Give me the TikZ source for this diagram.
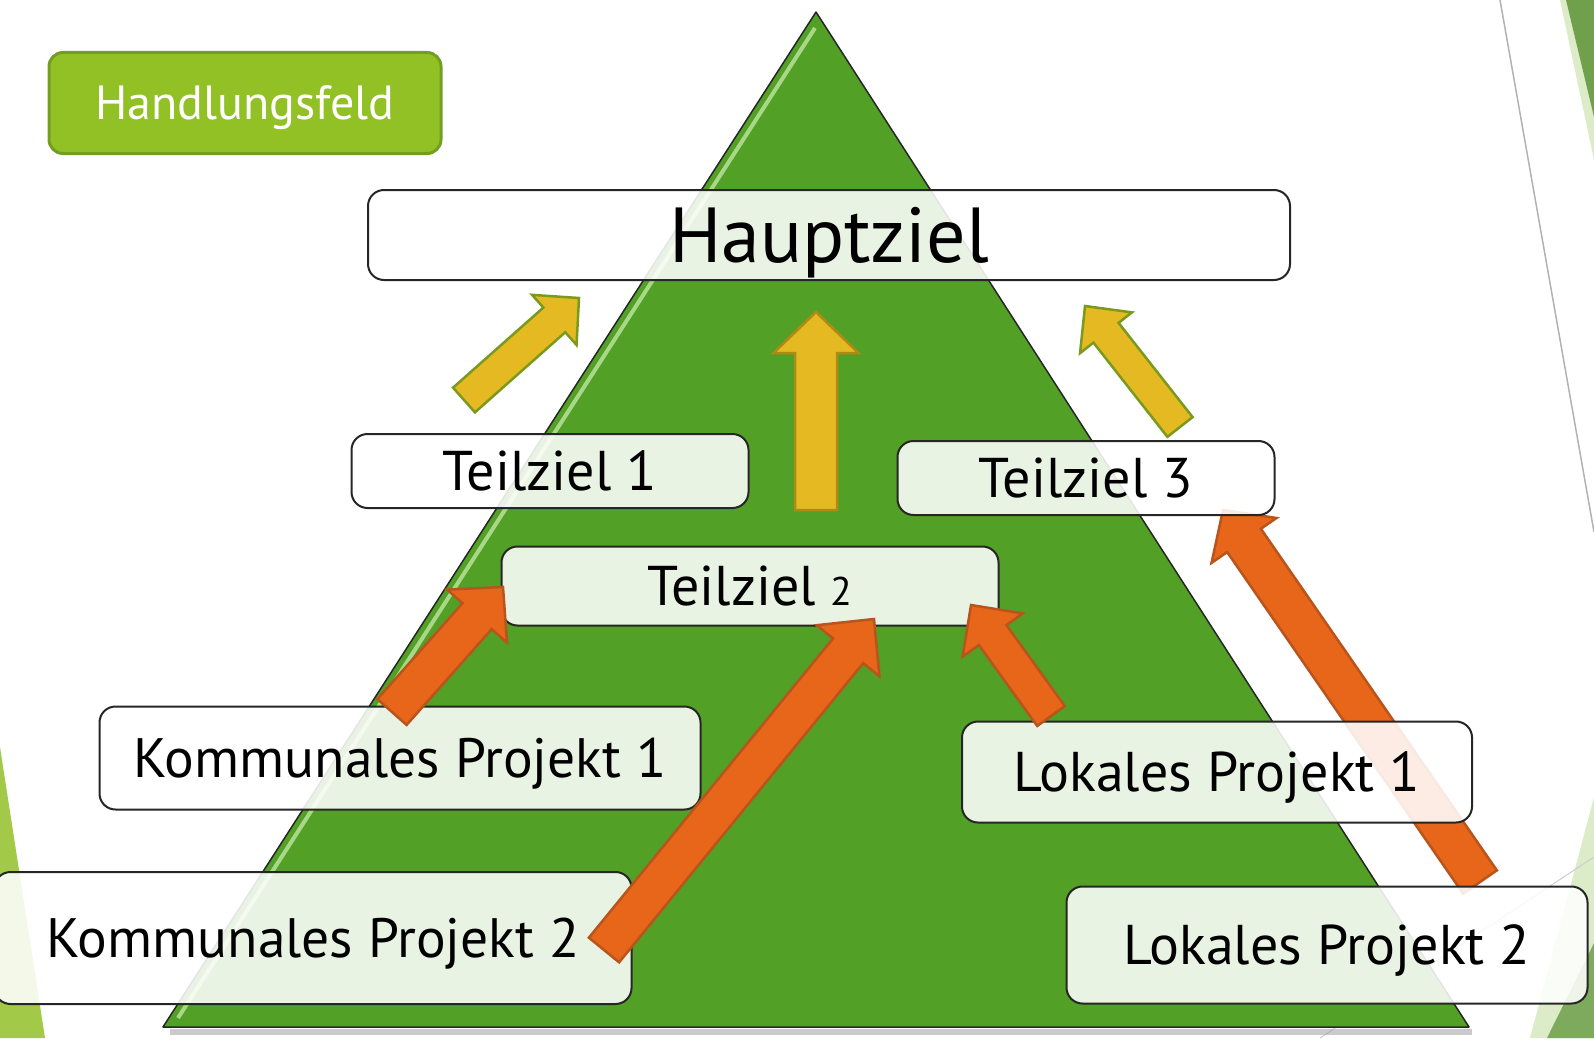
\documentclass[tikz,border=0pt]{standalone}
\usepackage{fontspec}
\setmainfont{PT Sans}
\usetikzlibrary{calc}

\definecolor{pyramid}{RGB}{82,160,37}
\definecolor{pyrlight}{RGB}{190,230,160}
\definecolor{fieldfill}{RGB}{146,193,37}
\definecolor{fielddraw}{RGB}{115,158,36}
\definecolor{goalyellow}{RGB}{229,185,34}
\definecolor{goalolive}{RGB}{122,154,30}
\definecolor{goalgold}{RGB}{176,138,20}
\definecolor{projorange}{RGB}{232,102,26}
\definecolor{projrust}{RGB}{184,84,28}
\definecolor{limeside}{RGB}{162,201,72}
\definecolor{leafdark}{RGB}{112,160,76}
\definecolor{leafpale}{RGB}{220,236,200}

\def\blockarrow[#1](#2)(#3:#4:#5:#6){%
	\coordinate (neck) at ($(#3)!#6!(#2)$);
	\draw[#1] ($(#2)!#4!90:(#3)$) -- ($(neck)!#4!90:(#3)$) -- ($(neck)!#5!90:(#3)$) -- (#3)
		-- ($(neck)!#5!-90:(#3)$) -- ($(neck)!#4!-90:(#3)$) -- ($(#2)!#4!-90:(#3)$) -- cycle;}

\tikzset{
	goalbox/.style={draw=black!85, line width=2pt, rounded corners=16pt, fill=white,
		fill opacity=0.88, text opacity=1, inner sep=0pt, text depth=0pt},
	yellowarrow/.style={fill=goalyellow, draw=goalolive, line width=2.5pt},
	orangearrow/.style={fill=projorange, draw=projrust, line width=2.5pt},
}

\begin{document}
\begin{tikzpicture}[x=1pt, y=-1pt]
		%%%%% START %%%%%
		\clip (0, 0) rectangle (1594, 1038);
		
		% slide decoration
		\fill[limeside] (0, 747) -- (45, 1038) -- (0, 1038) -- cycle;
		\fill[leafpale] (1560, 0) -- (1594, 0) -- (1594, 160) -- cycle;
		\fill[leafdark] (1566, 0) -- (1594, 0) -- (1594, 117) -- cycle;
		\draw[black!30, line width=1.5pt] (1500, 0) -- (1594, 532);
		\fill[leafpale] (1594, 797) -- (1530, 1038) -- (1594, 1038) -- cycle;
		\fill[leafdark!90] (1594, 943) -- (1547, 1038) -- (1594, 1038) -- cycle;
		\draw[black!20, line width=1pt] (1594, 857) -- (1320, 1038);
		
		% pyramid
		\draw[black!35, line width=6pt, opacity=0.6] (170, 1032) -- (1472, 1032);
		\draw[fill=pyramid, draw=black!85, line width=1.5pt, line join=round] (816, 12) -- (1469, 1027) -- (163, 1027) -- cycle;
		\draw[pyrlight, line width=4pt, opacity=0.8] (815, 28) -- (178, 1018);
		
		\coordinate (lp2-out) at (1480, 882);
		\coordinate (tz3-in) at (1223, 510);
		\blockarrow[orangearrow](lp2-out)(tz3-in:20.5pt:39.5pt:37pt);
		
		% boxes
		\node[fill=fieldfill, draw=fielddraw, line width=3pt, rounded corners=14pt,
			minimum width=392, minimum height=101, text=white, text depth=0pt,
			font=\fontsize{48}{50}\selectfont] (field) at (245, 103) {Handlungsfeld};
		\node[goalbox, minimum width=922, minimum height=90, font=\fontsize{78}{82}\selectfont] (haupt) at (829, 235) {Hauptziel};
		\node[goalbox, minimum width=397, minimum height=74, font=\fontsize{56}{60}\selectfont] (tz1) at (550, 471) {Teilziel 1};
		\node[goalbox, minimum width=377, minimum height=74, font=\fontsize{56}{60}\selectfont] (tz3) at (1086, 478) {Teilziel 3};
		\node[goalbox, minimum width=497, minimum height=79, font=\fontsize{56}{60}\selectfont] (tz2) at (750, 586) {Teilziel {\fontsize{40}{44}\selectfont 2}};
		\node[goalbox, minimum width=601, minimum height=103, font=\fontsize{55.5}{58}\selectfont] (kp1) at (400, 758) {Kommunales Projekt 1};
		\node[goalbox, minimum width=637, minimum height=132, font=\fontsize{55.5}{58}\selectfont] (kp2) at (313, 938) {Kommunales Projekt 2};
		\node[goalbox, minimum width=510, minimum height=101, font=\fontsize{56}{58}\selectfont] (lp1) at (1217, 772) {Lokales Projekt 1};
		\node[goalbox, minimum width=521, minimum height=117, font=\fontsize{56}{58}\selectfont] (lp2) at (1327, 945) {Lokales Projekt 2};
		
		% arrows up to the main goal
		\coordinate (tz1-out) at (464, 400);
		\coordinate (haupt-in1) at (579, 298);
		\coordinate (tz2-out) at (816, 510);
		\coordinate (haupt-in2) at (816, 312);
		\coordinate (tz3-out) at (1180, 427);
		\coordinate (haupt-in3) at (1085, 306);
		\blockarrow[yellowarrow](tz1-out)(haupt-in1:16.5pt:33.5pt:33pt);
		\blockarrow[yellowarrow, draw=goalgold](tz2-out)(haupt-in2:21pt:42.5pt:41pt);
		\blockarrow[yellowarrow](tz3-out)(haupt-in3:16pt:33pt:34pt);
		
		% arrows from the projects
		\coordinate (kp1-out) at (392, 712);
		\coordinate (tz2-in1) at (503, 587);
		\coordinate (kp2-out) at (604, 950);
		\coordinate (tz2-in2) at (874, 619);
		\coordinate (lp1-out) at (1051, 716);
		\coordinate (tz2-in3) at (971, 605);
		\blockarrow[orangearrow](kp1-out)(tz2-in1:19.5pt:40pt:39pt);
		\blockarrow[orangearrow](kp2-out)(tz2-in2:19.5pt:40.5pt:41pt);
		\blockarrow[orangearrow](lp1-out)(tz2-in3:17pt:37pt:37pt);
		%%%%% END %%%%%
\end{tikzpicture}
\end{document}
